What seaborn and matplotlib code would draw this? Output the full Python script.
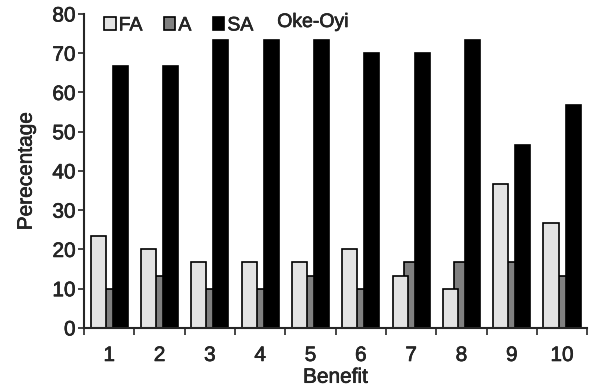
"""Likert responses per benefit, Oke-Oyi."""
import matplotlib
matplotlib.use("Agg")
import matplotlib.pyplot as plt
import matplotlib.patheffects as pe
from matplotlib.patches import Patch
import seaborn as sns
import numpy as np

benefits = [1, 2, 3, 4, 5, 6, 7, 8, 9, 10]
fa_values = [23.3, 20.0, 16.7, 16.7, 16.7, 20.0, 13.3, 10.0, 36.7, 26.7]
a_values = [10.0, 13.3, 10.0, 10.0, 13.3, 10.0, 16.7, 16.7, 16.7, 13.3]
sa_values = [66.7, 66.7, 73.3, 73.3, 73.3, 70.0, 70.0, 73.3, 46.7, 56.7]
y_ticks = [0, 10, 20, 30, 40, 50, 60, 70, 80]

sns.set_style("ticks")
plt.rcParams["font.family"] = ["Liberation Sans", "DejaVu Sans"]
heavy = [pe.withStroke(linewidth=0.4, foreground="black")]

fig, ax = plt.subplots(figsize=(5.92, 3.89), dpi=100)
x = np.array(benefits, dtype=float)

# draw A first so FA and SA overlap it
series = [
    ("A", a_values, 0.0, "#808080"),
    ("FA", fa_values, -0.22, "#e3e3e3"),
    ("SA", sa_values, 0.22, "#000000"),
]
for name, vals, off, col in series:
    sns.barplot(x=x + off, y=vals, native_scale=True, width=0.3,
                color=col, edgecolor="black", linewidth=1.2,
                saturation=1, ax=ax, label=name)

leg_handles = [Patch(facecolor=c, edgecolor="black", linewidth=1.2, label=n)
               for n, c in [("FA", "#e3e3e3"), ("A", "#808080"), ("SA", "#000000")]]
leg = ax.legend(handles=leg_handles, loc="upper left", bbox_to_anchor=(0.005, 1.045),
                ncol=3, frameon=False, fontsize=14, handlelength=0.6,
                handleheight=0.6, handletextpad=0.15, columnspacing=1.1)
for t in leg.get_texts():
    t.set_path_effects(heavy)

ax.text(0.455, 1.0, "Oke-Oyi", transform=ax.transAxes, ha="center", va="top",
        fontsize=14, path_effects=heavy)

ax.set_xlim(0.5, 10.5)
ax.set_ylim(0, 80)
ax.set_yticks(y_ticks)
ax.set_xticks(x)
ax.set_xticklabels([str(b) for b in benefits])
ax.set_xticks(np.arange(0.5, 11, 1.0), minor=True)
ax.tick_params(axis="x", which="major", length=0, labelsize=15, pad=13)
ax.tick_params(axis="x", which="minor", length=5, width=1.2)
ax.tick_params(axis="y", labelsize=15, length=4, width=1.2, pad=2)
for lab in ax.get_xticklabels() + ax.get_yticklabels():
    lab.set_path_effects(heavy)
ax.set_xlabel("Benefit", fontsize=15, labelpad=2, path_effects=heavy)
ax.set_ylabel("Perecentage", fontsize=15, labelpad=12, path_effects=heavy)
sns.despine(ax=ax)
for s in ("left", "bottom"):
    ax.spines[s].set_linewidth(1.5)

fig.subplots_adjust(left=0.142, right=0.992, top=0.964, bottom=0.157)
fig.savefig("out.png", dpi=100)
